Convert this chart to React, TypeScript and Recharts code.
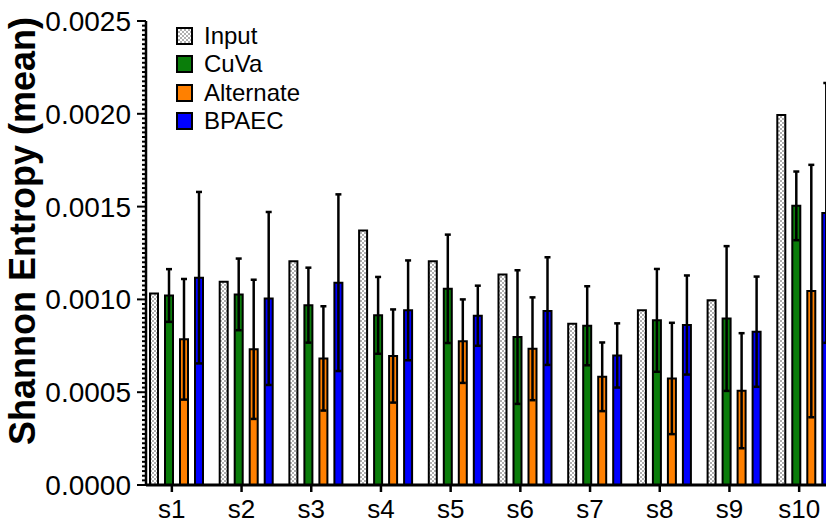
import { BarChart, Bar, XAxis, YAxis, ErrorBar, Legend } from "recharts";

const samples = ["s1", "s2", "s3", "s4", "s5", "s6", "s7", "s8", "s9", "s10"];

const inputMean = [0.001032, 0.001095, 0.001206, 0.001371, 0.001206, 0.001134, 0.000869, 0.000941, 0.000996, 0.001994];

const cuvaMean = [0.001021, 0.001027, 0.000969, 0.000914, 0.001057, 0.000797, 0.000858, 0.000887, 0.000897, 0.001504];
const cuvaErr = [0.000142, 0.000193, 0.000202, 0.000207, 0.000292, 0.00036, 0.000213, 0.000277, 0.00039, 0.000185];

const altMean = [0.000785, 0.000731, 0.000682, 0.000695, 0.000775, 0.000734, 0.000583, 0.000574, 0.000508, 0.001045];
const altErr = [0.000325, 0.000375, 0.000281, 0.000251, 0.000225, 0.000277, 0.000185, 0.0003, 0.00031, 0.00068];

const bpaecMean = [0.001117, 0.001005, 0.00109, 0.000941, 0.000912, 0.000937, 0.000698, 0.000862, 0.000826, 0.001466];
const bpaecErr = [0.000462, 0.000466, 0.000476, 0.000269, 0.000162, 0.00029, 0.000173, 0.000267, 0.000297, 0.0007];

const seriesNames = ["Input", "CuVa", "Alternate", "BPAEC"];
const yMax = 0.0025;
const majorStep = 0.0005;
const minorStep = 0.000025;

const COLORS = {
  input: "url(#checker)",
  cuva: "#0a7d0a",
  alt: "#ff8000",
  bpaec: "#0000ff",
};

const swatches = [
  "repeating-conic-gradient(#b0b0b0 0% 25%, #ffffff 0% 50%) 0 0 / 4px 4px",
  COLORS.cuva,
  COLORS.alt,
  COLORS.bpaec,
];

const data = samples.map((s, i) => ({
  name: s,
  input: inputMean[i],
  cuva: cuvaMean[i],
  cuvaErr: cuvaErr[i],
  alt: altMean[i],
  altErr: altErr[i],
  bpaec: bpaecMean[i],
  bpaecErr: bpaecErr[i],
}));

// every minor step gets a tick, majors get a label
const yTicks: number[] = [];
for (let i = 0; i <= Math.round(yMax / minorStep); i++) yTicks.push(i * minorStep);

const FONT = "'Liberation Sans', Arial, sans-serif";

function YTick(props: any) {
  const { x, y, payload } = props;
  const v = payload.value;
  const major = Math.abs(v / majorStep - Math.round(v / majorStep)) < 1e-6;
  return (
    <g>
      <line x1={x - (major ? 9 : 4)} x2={x} y1={y} y2={y} stroke="#000" strokeWidth={2} />
      {major && (
        <text x={x - 15} y={y + 10} textAnchor="end" fontFamily={FONT} fontSize={28} fill="#000">
          {v.toFixed(4)}
        </text>
      )}
    </g>
  );
}

function XTick(props: any) {
  const { x, y, payload } = props;
  const tx = x - 5;
  return (
    <g>
      <line x1={tx} x2={tx} y1={y} y2={y + 7} stroke="#000" strokeWidth={2.5} />
      <text x={tx} y={y + 33} textAnchor="middle" fontFamily={FONT} fontSize={26} fill="#000">
        {payload.value}
      </text>
    </g>
  );
}

function YTitle() {
  return (
    <text
      transform="translate(35,231) rotate(-90)"
      textAnchor="middle"
      fontFamily={FONT}
      fontWeight="bold"
      fontSize={36}
      fill="#000"
    >
      Shannon Entropy (mean)
    </text>
  );
}

function LegendBox() {
  return (
    <div style={{ fontFamily: FONT, fontSize: 24, color: "#000" }}>
      {seriesNames.map((n, i) => (
        <div key={n} style={{ display: "flex", alignItems: "center", height: 28.3 }}>
          <span
            style={{
              width: 13,
              height: 14,
              border: "2px solid #000",
              background: swatches[i],
              marginRight: 11,
              display: "inline-block",
            }}
          />
          <span>{n}</span>
        </div>
      ))}
    </div>
  );
}

export default function App() {
  return (
    <div
      style={{
        position: "fixed",
        left: 0,
        top: 0,
        width: 826,
        height: 524,
        overflow: "hidden",
        background: "#fff",
      }}
    >
      <BarChart
        width={844}
        height={524}
        data={data}
        margin={{ top: 21, right: 5, left: 0, bottom: 0 }}
        barSize={8}
        barGap={7}
      >
        <defs>
          <pattern id="checker" width="4" height="4" patternUnits="userSpaceOnUse">
            <rect width="4" height="4" fill="#ffffff" />
            <rect width="2" height="2" fill="#b0b0b0" />
            <rect x="2" y="2" width="2" height="2" fill="#b0b0b0" />
          </pattern>
        </defs>
        <XAxis
          dataKey="name"
          height={39}
          padding={{ left: -4, right: 0 }}
          axisLine={{ stroke: "#000", strokeWidth: 3 }}
          tickLine={false}
          tickSize={0}
          tickMargin={0}
          tick={<XTick />}
          interval={0}
        />
        <YAxis
          width={146}
          domain={[0, yMax]}
          ticks={yTicks}
          interval={0}
          axisLine={{ stroke: "#000", strokeWidth: 2.5 }}
          tickLine={false}
          tickSize={0}
          tickMargin={0}
          tick={<YTick />}
          label={{ content: () => <YTitle /> }}
        />
        <Legend
          layout="vertical"
          align="center"
          verticalAlign="middle"
          wrapperStyle={{ top: 22, left: 176, width: 220, height: 120 }}
          content={() => <LegendBox />}
        />
        <Bar dataKey="input" fill={COLORS.input} stroke="#000" strokeWidth={2} isAnimationActive={false} />
        <Bar dataKey="cuva" fill={COLORS.cuva} stroke="#000" strokeWidth={2} isAnimationActive={false}>
          <ErrorBar dataKey="cuvaErr" width={3} stroke="#000" strokeWidth={2.5} isAnimationActive={false} />
        </Bar>
        <Bar dataKey="alt" fill={COLORS.alt} stroke="#000" strokeWidth={2} isAnimationActive={false}>
          <ErrorBar dataKey="altErr" width={3} stroke="#000" strokeWidth={2.5} isAnimationActive={false} />
        </Bar>
        <Bar dataKey="bpaec" fill={COLORS.bpaec} stroke="#000" strokeWidth={2} isAnimationActive={false}>
          <ErrorBar dataKey="bpaecErr" width={3} stroke="#000" strokeWidth={2.5} isAnimationActive={false} />
        </Bar>
      </BarChart>
    </div>
  );
}
